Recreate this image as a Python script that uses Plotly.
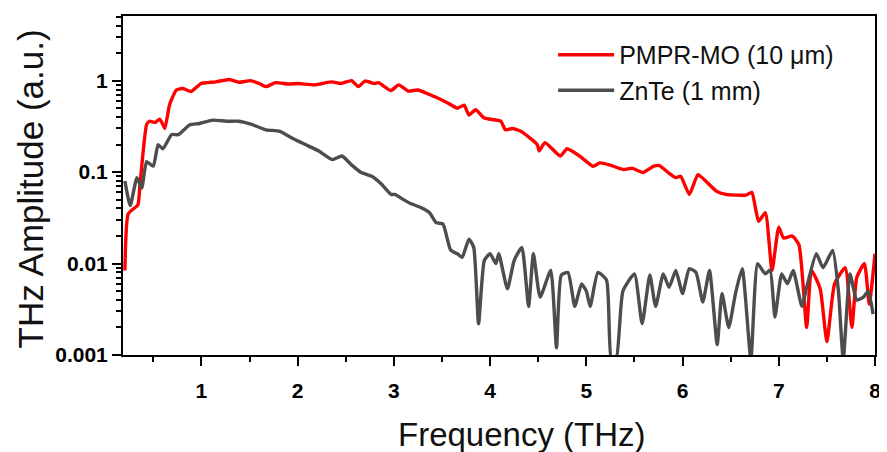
import plotly.graph_objects as go

# PMPR-MO (10 um) spectrum
pm_freq = [0.205, 0.24, 0.34, 0.36, 0.43, 0.46, 0.52, 0.567, 0.60, 0.62, 0.67, 0.74, 0.81, 0.89, 0.95,
           0.995, 1.15, 1.29, 1.39, 1.51, 1.60, 1.67, 1.77, 1.90, 2.01, 2.18, 2.35, 2.45, 2.56, 2.63,
           2.70, 2.80, 2.84, 2.97, 3.05, 3.15, 3.25, 3.42, 3.56, 3.66, 3.73, 3.78, 3.85, 3.94, 4.11,
           4.16, 4.23, 4.32, 4.49, 4.51, 4.57, 4.73, 4.80, 4.93, 5.07, 5.14, 5.24, 5.38, 5.48, 5.59,
           5.70, 5.76, 5.85, 5.93, 5.98, 6.07, 6.16, 6.24, 6.35, 6.45, 6.55, 6.66, 6.72, 6.79, 6.86,
           6.93, 7.00, 7.05, 7.14, 7.21, 7.29, 7.34, 7.43, 7.50, 7.58, 7.69, 7.76, 7.81, 7.89, 7.94, 8.00]
pm_amp = [0.0084, 0.035, 0.044, 0.07, 0.33, 0.36, 0.35, 0.38, 0.33, 0.30, 0.55, 0.79, 0.82, 0.76, 0.85,
          0.93, 0.97, 1.03, 0.96, 1.00, 0.93, 0.86, 0.95, 0.92, 0.93, 0.90, 0.97, 0.93, 1.00, 0.86,
          0.99, 0.93, 0.95, 0.78, 0.90, 0.77, 0.79, 0.67, 0.57, 0.50, 0.54, 0.42, 0.48, 0.39, 0.36,
          0.29, 0.30, 0.28, 0.20, 0.17, 0.21, 0.15, 0.18, 0.15, 0.116, 0.126, 0.12, 0.107, 0.11, 0.099,
          0.116, 0.118, 0.099, 0.087, 0.09, 0.057, 0.094, 0.08, 0.062, 0.057, 0.056, 0.056, 0.06, 0.029, 0.036,
          0.0084, 0.025, 0.019, 0.020, 0.016, 0.002, 0.0084, 0.0053, 0.0014, 0.006, 0.009, 0.002, 0.007, 0.01, 0.0036, 0.0128]

# ZnTe (1 mm) spectrum
zn_freq = [0.205, 0.26, 0.33, 0.38, 0.43, 0.50, 0.55, 0.60, 0.69, 0.76, 0.88, 0.98, 1.12, 1.26, 1.39,
           1.53, 1.67, 1.81, 1.94, 2.08, 2.22, 2.36, 2.46, 2.56, 2.66, 2.77, 2.87, 2.97, 3.01, 3.10,
           3.18, 3.28, 3.37, 3.44, 3.51, 3.59, 3.66, 3.71, 3.78, 3.83, 3.88, 3.94, 4.00, 4.06, 4.09,
           4.18, 4.25, 4.33, 4.40, 4.45, 4.52, 4.63, 4.69, 4.74, 4.81, 4.88, 4.95, 5.00, 5.04, 5.12,
           5.21, 5.26, 5.31, 5.38, 5.50, 5.58, 5.66, 5.72, 5.80, 5.86, 5.93, 6.00, 6.07, 6.14, 6.21,
           6.28, 6.36, 6.41, 6.48, 6.55, 6.62, 6.71, 6.78, 6.86, 6.91, 6.96, 7.03, 7.09, 7.15, 7.24,
           7.29, 7.39, 7.46, 7.56, 7.62, 7.67, 7.74, 7.81, 7.88, 7.93, 7.98]
zn_amp = [0.08, 0.043, 0.087, 0.067, 0.13, 0.116, 0.2, 0.18, 0.257, 0.257, 0.33, 0.34, 0.37, 0.36, 0.36,
          0.33, 0.29, 0.28, 0.236, 0.2, 0.17, 0.137, 0.15, 0.12, 0.099, 0.09, 0.074, 0.057, 0.057, 0.05,
          0.045, 0.041, 0.036, 0.028, 0.027, 0.014, 0.0128, 0.0117, 0.0185, 0.015, 0.0022, 0.0108, 0.0128, 0.01, 0.0128,
          0.0053, 0.0108, 0.015, 0.0034, 0.0128, 0.0043, 0.0084, 0.0012, 0.0075, 0.008, 0.0034, 0.006, 0.005, 0.0034, 0.008,
          0.0066, 0.0009, 0.0009, 0.005, 0.0077, 0.0022, 0.0075, 0.0034, 0.0077, 0.0055, 0.0084, 0.0047, 0.0088, 0.008, 0.0038,
          0.0084, 0.0013, 0.0047, 0.002, 0.0047, 0.0088, 0.0009, 0.01, 0.0077, 0.0085, 0.0026, 0.0077, 0.006, 0.0084, 0.0034,
          0.0055, 0.0128, 0.009, 0.0139, 0.005, 0.0009, 0.0077, 0.004, 0.0043, 0.005, 0.0028]

x_ticks = [1, 2, 3, 4, 5, 6, 7, 8]
x_minor = [0.5, 1.5, 2.5, 3.5, 4.5, 5.5, 6.5, 7.5]
y_ticks = [0.001, 0.01, 0.1, 1]
y_ticktext = ["0.001", "0.01", "0.1", "1"]
y_minor = [m * d for d in [0.001, 0.01, 0.1, 1] for m in range(2, 10)]

font = "Liberation Sans, Arial, sans-serif"

fig = go.Figure()
fig.add_trace(go.Scatter(x=pm_freq, y=pm_amp, mode="lines", name="PMPR-MO (10 \u03bcm)",
                         line=dict(color="#ff0000", width=3.4, shape="spline", smoothing=0.5),
                         legendgroup="a"))
fig.add_trace(go.Scatter(x=zn_freq, y=zn_amp, mode="lines", name="ZnTe (1 mm)",
                         line=dict(color="#4d4d4d", width=3.4, shape="spline", smoothing=0.5),
                         legendgroup="b"))

fig.update_layout(
    width=879, height=444,
    margin=dict(l=115, r=7, t=6, b=97),
    paper_bgcolor="white", plot_bgcolor="white",
    font=dict(family=font, color="black"),
    showlegend=True,
    legend=dict(x=0.572, y=0.953, xanchor="left", yanchor="top", itemwidth=56,
                font=dict(size=25, family=font, color="#111111"),
                bgcolor="rgba(0,0,0,0)", traceorder="grouped", tracegroupgap=0),
    xaxis=dict(range=[0.185, 8.0], showline=True, linecolor="black", linewidth=2, mirror=True,
               showgrid=False, zeroline=False,
               tickmode="array", tickvals=x_ticks, ticks="outside", ticklen=9, tickwidth=2,
               tickcolor="black", ticklabelstandoff=7,
               tickfont=dict(size=21, family=font, weight="bold"),
               minor=dict(tickmode="array", tickvals=x_minor, ticks="outside", ticklen=5,
                          tickwidth=1.5, tickcolor="black", showgrid=False)),
    yaxis=dict(type="log", range=[-3, 0.707], showline=True, linecolor="black", linewidth=2, mirror=True,
               showgrid=False, zeroline=False,
               tickmode="array", tickvals=y_ticks, ticktext=y_ticktext, ticks="outside", ticklen=9,
               tickwidth=2, tickcolor="black",
               tickfont=dict(size=21, family=font, weight="bold"),
               minor=dict(tickmode="array", tickvals=y_minor, ticks="outside", ticklen=5,
                          tickwidth=1.5, tickcolor="black", showgrid=False)),
)

fig.add_annotation(text="Frequency (THz)", xref="paper", yref="paper", x=0.53, y=-0.235,
                   xanchor="center", yanchor="middle", showarrow=False,
                   font=dict(size=33, family=font, color="#111111"))
fig.add_annotation(text="THz Amplitude (a.u.)", xref="paper", yref="paper", x=-0.123, y=0.49,
                   xanchor="center", yanchor="middle", textangle=-90, showarrow=False,
                   font=dict(size=35, family=font, color="#111111"))

fig.write_html("out.html")
